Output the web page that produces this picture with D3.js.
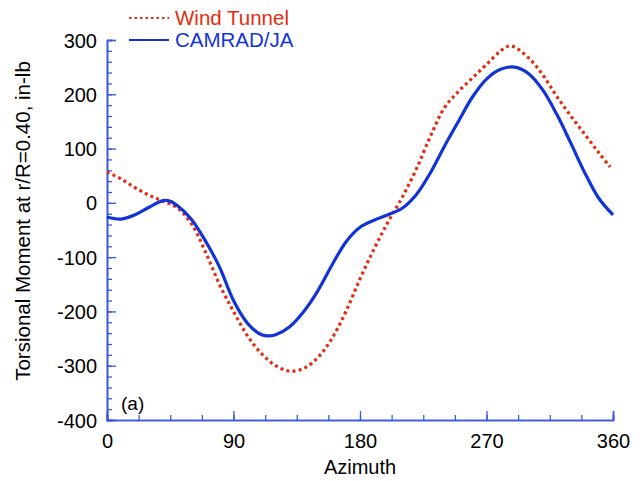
<!DOCTYPE html>
<html>
<head>
<meta charset="utf-8">
<script src="https://cdn.jsdelivr.net/npm/d3@7"></script>
<style>
  html, body { margin: 0; padding: 0; background: #fff; }
  svg { display: block; font-family: "Liberation Sans", Arial, sans-serif; }
</style>
</head>
<body>
<svg id="chart" width="642" height="481"></svg>
<script>
// Azimuth (deg) and torsional moment (in-lb)
const windAz  = [0, 10, 20, 30, 40, 50, 60, 70, 80, 90, 100, 110, 120, 130, 140, 150, 160, 170, 180, 190, 200, 210, 220, 230, 240, 250, 260, 270, 280, 286, 290, 300, 310, 320, 330, 340, 350, 358];
const windVal = [57, 44, 28, 14, 3, -9, -38, -90, -150, -200, -245, -278, -300, -310, -305, -285, -250, -200, -140, -85, -35, 10, 62, 122, 175, 205, 230, 255, 280, 289, 287, 267, 236, 196, 160, 126, 92, 66];

const camAz  = [0, 10, 20, 30, 40, 45, 50, 60, 70, 80, 90, 100, 110, 116, 120, 130, 140, 150, 160, 170, 180, 190, 200, 210, 220, 230, 240, 250, 260, 270, 280, 290, 300, 310, 320, 330, 340, 350, 360];
const camVal = [-26, -30, -22, -8, 4, 3, -5, -30, -70, -118, -180, -222, -243, -245, -243, -228, -200, -162, -115, -72, -45, -32, -22, -10, 15, 55, 104, 150, 195, 228, 246, 250, 238, 208, 163, 110, 55, 8, -22];

const xTicks = [0, 90, 180, 270, 360];
const yTicks = [-400, -300, -200, -100, 0, 100, 200, 300];
const seriesNames = ["Wind Tunnel", "CAMRAD/JA"];

const W = 642, H = 481;
const m = { left: 107, right: 29, top: 40, bottom: 61 };
const svg = d3.select("#chart");
const x = d3.scaleLinear().domain([0, 360]).range([m.left, W - m.right]);
const y = d3.scaleLinear().domain([-400, 300]).range([H - m.bottom, m.top]);

const axisColor = "#3a56e0";
const red = "#e8290f";
const blue = "#1234d6";
const fmt = d => String(d);

// minor ticks
const xMinor = d3.range(0, 360.1, 22.5);
const yMinor = d3.range(-400, 300.1, 20);

// X axis (ticks inward)
const gx = svg.append("g").attr("transform", `translate(0,${y(-400)})`);
gx.call(d3.axisBottom(x).tickValues(xMinor).tickSize(-5).tickFormat(""));
gx.append("g").call(d3.axisBottom(x).tickValues(xTicks).tickSize(-9).tickFormat(fmt));
gx.selectAll(".domain").attr("stroke", axisColor).attr("stroke-width", 1.6);
gx.selectAll("line").attr("stroke", axisColor).attr("stroke-width", 1.3);
gx.selectAll("text").attr("fill", "#000").attr("font-size", 20).attr("y", 14).attr("dy", "0.71em");

// Y axis (ticks inward)
const gy = svg.append("g").attr("transform", `translate(${x(0)},0)`);
gy.call(d3.axisLeft(y).tickValues(yMinor).tickSize(-5).tickFormat(""));
gy.append("g").call(d3.axisLeft(y).tickValues(yTicks).tickSize(-9).tickFormat(fmt));
gy.selectAll(".domain").attr("stroke", axisColor).attr("stroke-width", 1.6);
gy.selectAll("line").attr("stroke", axisColor).attr("stroke-width", 1.3);
gy.selectAll("text").attr("fill", "#000").attr("font-size", 20).attr("x", -10).attr("dy", "0.35em");
svg.selectAll(".domain").attr("fill", "none");

// Curves
const line = d3.line().x(d => x(d[0])).y(d => y(d[1])).curve(d3.curveCatmullRom.alpha(0.5));
const windData = windAz.map((a, i) => [a, windVal[i]]);
const camData = camAz.map((a, i) => [a, camVal[i]]);

svg.append("path").datum(windData).attr("d", line)
  .attr("fill", "none").attr("stroke", red).attr("stroke-width", 3.2)
  .attr("stroke-dasharray", "3,3.2");
svg.append("path").datum(camData).attr("d", line)
  .attr("fill", "none").attr("stroke", blue).attr("stroke-width", 3.2);

// Axis titles
svg.append("text").attr("x", x(180)).attr("y", 474).attr("text-anchor", "middle")
  .attr("font-size", 20).attr("fill", "#000").text("Azimuth");
svg.append("text").attr("transform", `translate(30,221) rotate(-90)`).attr("text-anchor", "middle")
  .attr("font-size", 20.5).attr("fill", "#000").text("Torsional Moment at r/R=0.40, in-lb");

// Panel label
svg.append("text").attr("x", 121).attr("y", 410).attr("font-size", 19).attr("fill", "#000").text("(a)");

// Legend
const leg = svg.append("g");
leg.append("line").attr("x1", 129).attr("x2", 169).attr("y1", 18).attr("y2", 18)
  .attr("stroke", red).attr("stroke-width", 2).attr("stroke-dasharray", "2.5,3");
leg.append("text").attr("x", 175).attr("y", 25).attr("font-size", 20.5).attr("fill", red).text(seriesNames[0]);
leg.append("line").attr("x1", 129).attr("x2", 169).attr("y1", 40).attr("y2", 40)
  .attr("stroke", blue).attr("stroke-width", 2);
leg.append("text").attr("x", 175).attr("y", 47).attr("font-size", 20.5).attr("fill", blue).text(seriesNames[1]);
</script>
</body>
</html>
